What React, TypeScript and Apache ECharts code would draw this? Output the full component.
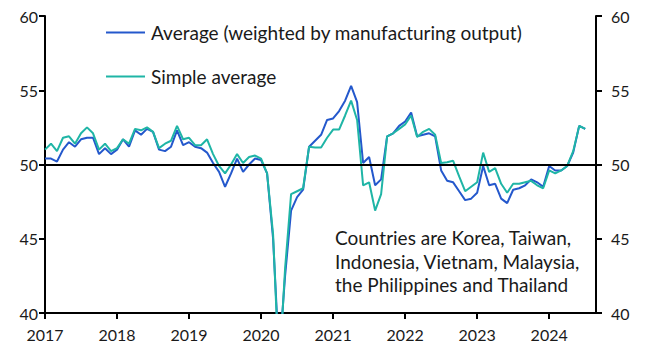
import React, { useEffect, useRef } from "react";
import * as echarts from "echarts";

const startYear = 2017;
const yearTicks = ["2017", "2018", "2019", "2020", "2021", "2022", "2023", "2024"];
const yTicks = [40, 45, 50, 55, 60];
const seriesNames = ["Average (weighted by manufacturing output)", "Simple average"];
const note = ["Countries are Korea, Taiwan,", "Indonesia, Vietnam, Malaysia,", "the Philippines and Thailand"];

// Monthly values, Jan 2017 onwards
const weighted = [
  50.4, 50.4, 50.2, 51.0, 51.5, 51.2, 51.7, 51.8, 51.8, 50.7, 51.1, 50.7,
  51.0, 51.7, 51.2, 52.3, 52.0, 52.4, 52.2, 51.0, 50.9, 51.2, 52.3, 51.3,
  51.5, 51.2, 51.1, 50.8, 50.1, 49.5, 48.5, 49.4, 50.4, 49.5, 50.0, 50.4,
  50.3, 49.4, 45.0, 37.0, 42.5, 46.9, 47.8, 48.3, 51.2, 51.6, 52.0, 53.0,
  53.1, 53.6, 54.3, 55.3, 54.2, 50.1, 50.5, 48.6, 49.0, 51.9, 52.1, 52.6,
  52.9, 53.5, 51.9, 52.0, 52.1, 51.9, 49.6, 48.9, 48.8, 48.2, 47.6, 47.7,
  48.1, 49.9, 48.6, 48.7, 47.7, 47.4, 48.3, 48.4, 48.6, 49.0, 48.8, 48.5,
  49.9, 49.6, 49.6, 49.9, 50.8, 52.6, 52.4,
];
const simple = [
  51.0, 51.4, 50.9, 51.8, 51.9, 51.4, 52.1, 52.5, 52.1, 51.0, 51.4, 50.9,
  51.1, 51.7, 51.4, 52.4, 52.3, 52.5, 52.2, 51.1, 51.4, 51.6, 52.6, 51.7,
  51.8, 51.3, 51.3, 51.7, 50.7, 49.9, 49.4, 50.0, 50.7, 50.1, 50.5, 50.6,
  50.4, 49.4, 45.3, 36.0, 43.0, 48.0, 48.2, 48.4, 51.2, 51.15, 51.15, 51.8,
  52.35, 52.35, 53.3, 54.3, 53.0, 48.6, 48.8, 46.9, 48.0, 51.9, 52.1, 52.4,
  52.7, 53.3, 51.85, 52.2, 52.4, 52.0, 50.1, 50.15, 50.25, 49.2, 48.2, 48.5,
  48.8, 50.8, 49.5, 49.75, 48.7, 48.1, 48.7, 48.7, 48.8, 48.9, 48.6, 48.4,
  49.6, 49.4, 49.6, 49.9, 50.9, 52.6, 52.4,
];

const FONT = "Lato";
const BLUE = "#2458cc";
const TEAL = "#1fb5a6";
const TEXT = "#1a1a1a";

export default function App() {
  const ref = useRef<HTMLDivElement>(null);
  useEffect(() => {
    if (!ref.current) return;
    const chart = echarts.init(ref.current, undefined, { renderer: "svg" });
    const toPairs = (arr: number[]) => arr.map((v, i) => [i, v]);
    const yAxisBase = {
      type: "value",
      min: yTicks[0],
      max: yTicks[yTicks.length - 1],
      interval: 5,
      splitLine: { show: false },
      axisLine: { show: true, lineStyle: { color: "#000", width: 2 } },
      axisTick: { show: true, length: 6, lineStyle: { color: "#000", width: 2 } },
    };
    chart.setOption({
      animation: false,
      grid: { left: 37, right: 50, top: 6, bottom: 47 },
      legend: {
        orient: "vertical",
        left: 93,
        top: 10,
        itemGap: 25,
        icon: "rect",
        itemWidth: 39,
        itemHeight: 2,
        textStyle: { fontSize: 19, fontFamily: FONT, color: TEXT, padding: [0, 0, 0, 1] },
        data: seriesNames,
      },
      xAxis: {
        type: "value",
        min: 0,
        max: 91.8,
        interval: 12,
        splitLine: { show: false },
        axisLine: { show: true, lineStyle: { color: "#000", width: 2 } },
        axisTick: { show: true, length: 6, lineStyle: { color: "#000", width: 2 } },
        axisLabel: {
          color: TEXT,
          fontSize: 16,
          fontFamily: FONT,
          margin: 13,
          formatter: (v: number) => yearTicks[Math.round(v / 12)] ?? String(startYear + v / 12),
        },
      },
      yAxis: [
        {
          ...yAxisBase,
          position: "left",
          axisLabel: { color: TEXT, fontSize: 16, fontFamily: FONT, margin: 7 },
        },
        {
          ...yAxisBase,
          position: "right",
          axisLabel: { color: TEXT, fontSize: 16, fontFamily: FONT, margin: 15 },
        },
      ],
      graphic: [
        {
          type: "text",
          left: 327,
          top: 218,
          style: {
            text: note.join("\n"),
            fontSize: 19,
            fontFamily: FONT,
            fill: TEXT,
            lineHeight: 23.5,
          },
        },
      ],
      series: [
        {
          name: seriesNames[0],
          type: "line",
          data: toPairs(weighted),
          showSymbol: false,
          lineStyle: { color: BLUE, width: 2 },
          itemStyle: { color: BLUE },
          clip: true,
          markLine: {
            silent: true,
            symbol: "none",
            label: { show: false },
            lineStyle: { color: "#000", width: 2, type: "solid" },
            data: [{ yAxis: 50 }],
          },
        },
        {
          name: seriesNames[1],
          type: "line",
          data: toPairs(simple),
          showSymbol: false,
          lineStyle: { color: TEAL, width: 2 },
          itemStyle: { color: TEAL },
          clip: true,
        },
      ],
    });
    return () => chart.dispose();
  }, []);
  return <div ref={ref} style={{ width: 638, height: 352 }} />;
}
